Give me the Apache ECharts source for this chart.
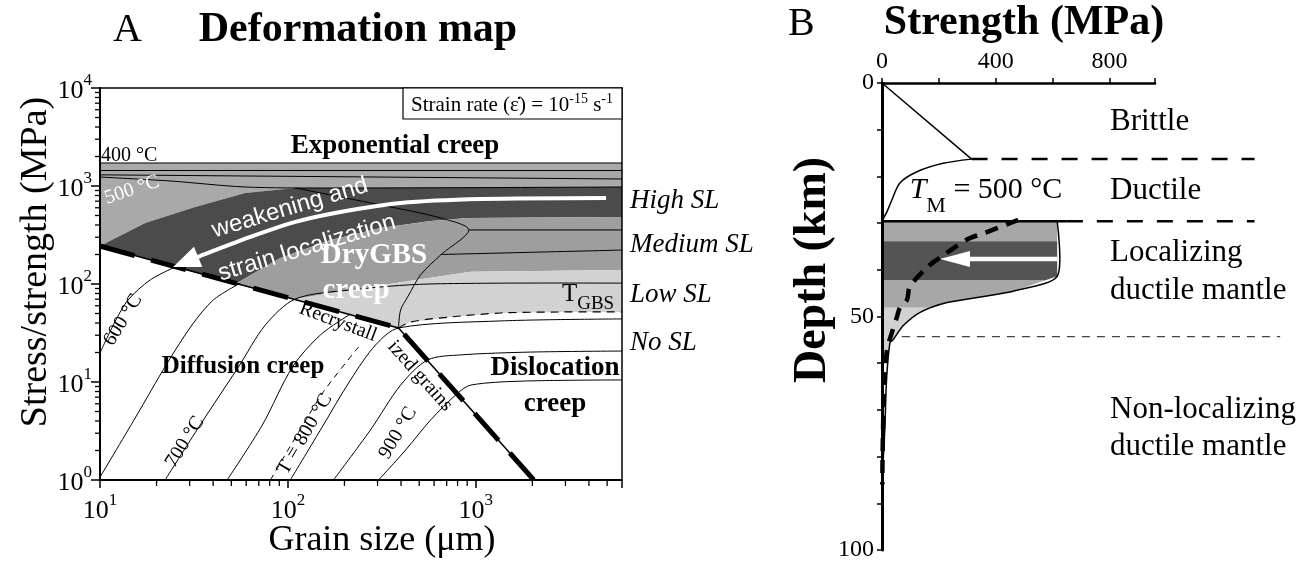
<!DOCTYPE html>
<html><head><meta charset="utf-8">
<script src="https://cdn.jsdelivr.net/npm/echarts@6/dist/echarts.min.js"></script>
<style>html,body{margin:0;padding:0;background:#fff}#c{width:1310px;height:562px}</style>
</head><body><div id="c"></div>
<script>
const SERIF = '"Liberation Serif","Times New Roman",serif';
const SANS = '"Liberation Sans",Arial,sans-serif';

// ===== Panel A : deformation map, [grain size (um), stress (MPa)] =====
const xTicksA = [10, 100, 1000];
const yTicksA = [1, 10, 100, 1000, 10000];
const minorXA = [20,30,40,50,60,70,80,90,200,300,400,500,600,700,800,900,2000,3000,4000,5000];
const minorYA = [2,3,4,5,6,7,8,9,20,30,40,50,60,70,80,90,200,300,400,500,600,700,800,900,2000,3000,4000,5000,6000,7000,8000,9000];

const regionHighT = [[10,1717],[6000,1717],[6000,977],[109.6,954],[59.3,848],[32.1,611],[17.4,419],[10,244]];
const regionHighSL = [[10,244],[17.4,419],[32.1,611],[59.3,848],[109.6,954],[6000,977],[6000,483],[906,472],[575,439],[311.5,373],[168.5,281],[91.2,184],[52.5,100]];
const regionMediumSL = [[52.5,100],[91.2,184],[168.5,281],[311.5,373],[575,439],[906,472],[6000,483],[6000,139],[940,133],[561,115],[215,86.9],[109.6,70.3]];
const regionLowSL = [[109.6,70.3],[215,86.9],[561,115],[940,133],[6000,139],[6000,51.8],[2840,51.8],[1359,50.6],[735.6,46.1],[450,41],[388,35.6]];

const piezometer = [[10,244],[388,35.6],[2037,1]];
const tGBS = [[388,35.6],[450,41],[735.6,46.1],[1359,50.6],[2840,51.8],[6000,51.8]];
const iso400a = [[10,1717],[6000,1717]];
const iso400b = [[10,1439],[6000,1439]];
const iso450 = [[10,1300],[6000,1179]];
const iso500 = [[10,1235],[23.6,1125],[59.3,977],[168.5,954],[6000,977]];
const gbsBoundary = [[109.6,954],[311.5,640],[650.6,472],[917.8,356],[650.6,198],[508.8,124],[433.8,73.7],[398,54.3],[388,35.6]];
const contour230 = [[917.8,356],[6000,356]];
const contour250 = [[650,200],[6000,222]];
const c600 = [[10,19.8],[12.0,41],[14.1,68.7],[18.5,110],[25.1,149]];
const c650 = [[10,1.07],[15.4,4.3],[22.8,15.6],[30.9,38.2],[40.1,68.7],[55.8,102]];
const c700 = [[22.2,1],[34.1,3.64],[54.5,14.2],[75.9,38.2],[109.6,70.3],[215,86.9],[561,100],[6000,102]];
const c750 = [[47.5,1],[73.1,3.64],[105.7,14.2],[149,30.2],[215.4,49.4]];
const cWet800 = [[80.7,1],[152.8,7.7],[237.7,22.8]];
const c800 = [[103,1],[149,3.24],[215.4,10.5],[293,23.9],[388,35.6],[1359,42],[6000,44]];
const c850 = [[174.8,1],[275,3.24],[398,9.3],[555,16.8],[832,18.9],[1963,20.2],[6000,20.7]];
const c900 = [[303.9,1],[423,2.02],[575,4.1],[802,7.7],[940.6,9.3],[1738,10.2],[6000,10.5]];
const arrowA = [[4935,755],[1064,736],[398,671],[190.5,543],[109.6,430],[63.1,302],[34.1,193],[24.5,149]];

// ===== Panel B : strength profile, [strength (MPa), depth (km)] =====
const brittle = [[0,0],[315,16.3]];
const ductileCrust = [[315,16.3],[215,17.2],[123,19],[63,21.4],[35,25],[18,27.5],[5,29],[0,29.6]];
const mantleProfile = [[616,29.6],[616,41.4],[461,44.6],[370,45.6],[229,47],[134,49.1],[74,52],[39,55],[28,55.6],[16,63.5],[10,74],[3,82],[0,86]];
const bandDepths = [29.6, 33.9, 42.3, 48.1, 60];
const mohoTop = [[0,29.6],[650,29.6]];
const tmCurve = [[479,29.3],[362,32.1],[299,33.5],[204,37.4],[162,39.3],[98,43.6],[88,46.4],[63,48.1],[53,50],[35,53.4],[18,57],[10,62],[5,70],[2,80],[1,86]];
const dashBD = [[315,16.3],[1310,16.3]];
const dashDL = [[650,29.6],[1310,29.6]];
const dashLN = [[70,54.3],[1400,54.3]];
const arrowB = [[616,37.7],[204,37.7]];

const COLORS = {highT:'#a9a9a9', dark:'#4b4b4b', med:'#9e9e9e', light:'#d2d2d2', bTop:'#a7a7a7', bDark:'#545454', bLight:'#d2d2d2'};

function poly(ax, pts, fill, z) {
  return {type:'custom', xAxisIndex:ax, yAxisIndex:ax, clip:true, silent:true, z:z||2, data:[pts[0]],
    renderItem:(p, api)=>({type:'polygon', shape:{points:pts.map(q=>api.coord(q))}, style:{fill:fill, stroke:null}})};
}
function pline(ax, pts, stroke, width, dash, smooth, z, clip) {
  return {type:'custom', xAxisIndex:ax, yAxisIndex:ax, clip:clip!==false, silent:true, z:z||3, data:[pts[0]],
    renderItem:(p, api)=>({type:'polyline', shape:{points:pts.map(q=>api.coord(q)), smooth:smooth||0},
      style:{stroke:stroke, lineWidth:width, lineDash:dash||null, fill:null, lineCap:'butt'}})};
}
function arrow(ax, pts, color, width, headLen, headHalf, smooth, z) {
  return {type:'custom', xAxisIndex:ax, yAxisIndex:ax, clip:true, silent:true, z:z||5, data:[pts[0]],
    renderItem:(p, api)=>{
      const c = pts.map(q=>api.coord(q));
      const tip = c[c.length-1], prev = c[c.length-2];
      const dx = tip[0]-prev[0], dy = tip[1]-prev[1], L = Math.hypot(dx,dy);
      const ux = dx/L, uy = dy/L;
      const base = [tip[0]-ux*headLen, tip[1]-uy*headLen];
      const linePts = c.slice(0, c.length-1).concat([[base[0]+ux*2, base[1]+uy*2]]);
      return {type:'group', children:[
        {type:'polyline', shape:{points:linePts, smooth:smooth||0}, style:{stroke:color, lineWidth:width, fill:null}},
        {type:'polygon', shape:{points:[tip,[base[0]-uy*headHalf, base[1]+ux*headHalf],[base[0]+uy*headHalf, base[1]-ux*headHalf]]}, style:{fill:color}}
      ]};
    }};
}
function ticks(ax, vals, dir, len) {
  return {type:'custom', xAxisIndex:ax, yAxisIndex:ax, clip:false, silent:true, z:12, data:[[10,10]],
    renderItem:(p, api)=>({type:'group', children: vals.map(v=>{
      if (dir==='x') { const c = api.coord([v, 1]); return {type:'line', shape:{x1:c[0], y1:c[1], x2:c[0], y2:c[1]+len}, style:{stroke:'#000', lineWidth:1.3}}; }
      const c = api.coord([10, v]); return {type:'line', shape:{x1:c[0]-len, y1:c[1], x2:c[0], y2:c[1]}, style:{stroke:'#000', lineWidth:1.3}};
    })})};
}
function strengthAt(d) {
  for (let i=0;i<mantleProfile.length-1;i++) {
    const a = mantleProfile[i], b = mantleProfile[i+1];
    if (d>=a[1] && d<=b[1]) { const t = (b[1]===a[1])?0:(d-a[1])/(b[1]-a[1]); return a[0]+t*(b[0]-a[0]); }
  }
  return 0;
}
function bandPoly(d1, d2) {
  const pts = [[0,d1],[strengthAt(d1),d1]];
  mantleProfile.forEach(q=>{ if (q[1]>d1 && q[1]<d2) pts.push(q); });
  pts.push([strengthAt(d2),d2],[0,d2]);
  return pts;
}

const powFmt = v => { const e = Math.log10(v), r = Math.round(e); if (Math.abs(e-r) > 1e-3) return ''; return '{b|10}{s|' + r + '}'; };
const powRich = { b:{fontSize:26, fontFamily:SERIF, color:'#000', verticalAlign:'bottom', lineHeight:32}, s:{fontSize:17, fontFamily:SERIF, color:'#000', verticalAlign:'top', lineHeight:17} };

const series = [
  poly(0, regionHighT, COLORS.highT, 2),
  poly(0, regionHighSL, COLORS.dark, 2),
  poly(0, regionMediumSL, COLORS.med, 2),
  poly(0, regionLowSL, COLORS.light, 2),
  pline(0, iso400a, '#000', 1),
  pline(0, iso400b, '#000', 1),
  pline(0, iso450, '#000', 1),
  pline(0, iso500, '#000', 1, null, 0.3),
  pline(0, gbsBoundary, '#000', 1, null, 0.3),
  pline(0, contour230, '#000', 1),
  pline(0, contour250, '#000', 1, null, 0.3),
  pline(0, c600, '#000', 1, null, 0.3),
  pline(0, c650, '#000', 1, null, 0.3),
  pline(0, c700, '#000', 1, null, 0.3),
  pline(0, c750, '#000', 1, null, 0.3),
  pline(0, cWet800, '#000', 1, [6,5], 0.2),
  pline(0, c800, '#000', 1, null, 0.3),
  pline(0, c850, '#000', 1, null, 0.3),
  pline(0, c900, '#000', 1, null, 0.3),
  pline(0, tGBS, '#000', 1.2, [8,6], 0.3),
  pline(0, piezometer, '#000', 1.5, null, 0, 4),
  pline(0, piezometer, '#000', 5, [36,17], 0, 4),
  arrow(0, arrowA, '#fff', 4, 27, 11, 0.3, 6),
  ticks(0, minorXA, 'x', 6),
  ticks(0, minorYA, 'y', 5),
  // Panel B
  poly(2, bandPoly(bandDepths[0], bandDepths[1]), COLORS.bTop, 2),
  poly(2, bandPoly(bandDepths[1], bandDepths[2]), COLORS.bDark, 2),
  poly(2, bandPoly(bandDepths[2], bandDepths[3]), COLORS.bTop, 2),
  poly(2, bandPoly(bandDepths[3], bandDepths[4]), COLORS.bLight, 2),
  pline(2, mantleProfile, '#000', 1.5, null, 0.25, 3, false),
  pline(2, brittle, '#000', 1.5, null, 0, 3, false),
  pline(2, ductileCrust, '#000', 1.5, null, 0.3, 3, false),
  pline(2, mohoTop, '#000', 2.5, null, 0, 3, false),
  pline(2, dashBD, '#000', 2.5, [16,14], 0, 3, false),
  pline(2, dashDL, '#000', 2.5, [16,14], 0, 3, false),
  pline(2, dashLN, '#444', 1.3, [8,7], 0, 3, false),
  arrow(2, arrowB, '#fff', 4.5, 30, 8, 0, 5),
  pline(2, tmCurve, '#000', 4.5, [13,9], 0.3, 6, false)
];

function txt(x, y, text, o) {
  o = o || {};
  return {type:'text', x:x, y:y, rotation:o.rot||0, z:100, silent:true,
    style:{text:text, fontSize:o.size||20, fontFamily:o.family||SERIF, fontWeight:o.weight||'normal', fontStyle:o.style||'normal',
      fill:o.color||'#000', align:o.align||'center', verticalAlign:'middle', rich:o.rich}};
}

const graphics = [
  txt(113, 30, 'A', {size:40, align:'left'}),
  txt(358, 30, 'Deformation map', {size:42, weight:'bold'}),
  txt(36, 262, 'Stress/strength (MPa)', {size:38, rot:Math.PI/2}),
  txt(382, 541, 'Grain size (\u03bcm)', {size:36}),
  {type:'rect', z:99, silent:true, shape:{x:403, y:88, width:219, height:31}, style:{fill:'#fff', stroke:'#000', lineWidth:1.2}},
  txt(512, 104, '{n|Strain rate (\u03b5\u0307) = 10}{s|-15}{n| s}{s|-1}', {rich:{
    n:{fontSize:21, fontFamily:SERIF, verticalAlign:'bottom', lineHeight:24, fill:'#000'},
    s:{fontSize:14, fontFamily:SERIF, verticalAlign:'top', lineHeight:14, fill:'#000'}}}),
  txt(395, 146, 'Exponential creep', {size:27, weight:'bold'}),
  txt(101, 156, '400 \u00b0C', {size:20, align:'left'}),
  txt(132, 190, '500 \u00b0C', {size:20, color:'#fff', rot:0.33}),
  txt(290, 208, 'weakening and', {size:24, family:SANS, color:'#fff', rot:0.29}),
  txt(307, 248, 'strain localization', {size:24, family:SANS, color:'#fff', rot:0.29}),
  txt(374, 256, 'DryGBS', {size:29, weight:'bold', color:'#fff'}),
  txt(356, 291, 'creep', {size:29, weight:'bold', color:'#fff'}),
  txt(588, 298, '{t|T}{g|GBS}', {rich:{
    t:{fontSize:25, fontFamily:SERIF, verticalAlign:'top', lineHeight:26, fill:'#000'},
    g:{fontSize:19, fontFamily:SERIF, verticalAlign:'bottom', lineHeight:32, fill:'#000'}}}),
  txt(338, 322, 'Recrystall', {size:20, rot:-0.36}),
  txt(420, 376, 'ized grains', {size:20, rot:-0.84}),
  txt(243, 367, 'Diffusion creep', {size:25, weight:'bold'}),
  txt(555, 368, 'Dislocation', {size:27, weight:'bold'}),
  txt(555, 404, 'creep', {size:27, weight:'bold'}),
  txt(123, 320, '600 \u00b0C', {size:20, rot:1.02}),
  txt(185, 442, '700 \u00b0C', {size:20, rot:1.01}),
  txt(305, 434, 'T = 800 \u00b0C', {size:20, rot:1.04}),
  txt(398, 433, '900 \u00b0C', {size:20, rot:1.04}),
  txt(630, 201, 'High SL', {size:27, style:'italic', align:'left'}),
  txt(630, 245, 'Medium SL', {size:27, style:'italic', align:'left'}),
  txt(630, 295, 'Low SL', {size:27, style:'italic', align:'left'}),
  txt(630, 343, 'No SL', {size:27, style:'italic', align:'left'}),
  // Panel B
  txt(788, 24, 'B', {size:40, align:'left'}),
  txt(1024, 23, 'Strength (MPa)', {size:42, weight:'bold'}),
  txt(813, 270, 'Depth (km)', {size:46, weight:'bold', rot:Math.PI/2}),
  txt(1110, 122, 'Brittle', {size:31, align:'left'}),
  txt(1110, 191, 'Ductile', {size:31, align:'left'}),
  txt(1110, 253, 'Localizing', {size:31, align:'left'}),
  txt(1110, 291, 'ductile mantle', {size:31, align:'left'}),
  txt(1110, 410, 'Non-localizing', {size:31, align:'left'}),
  txt(1110, 447, 'ductile mantle', {size:31, align:'left'}),
  txt(986, 196, '{t|T}{m|M}{n| = 500 \u00b0C}', {rich:{
    t:{fontSize:30, fontFamily:SERIF, fontStyle:'italic', verticalAlign:'top', lineHeight:32, fill:'#000'},
    m:{fontSize:22, fontFamily:SERIF, verticalAlign:'bottom', lineHeight:42, fill:'#000'},
    n:{fontSize:30, fontFamily:SERIF, verticalAlign:'top', lineHeight:32, fill:'#000'}}})
];

const chart = echarts.init(document.getElementById('c'));
chart.setOption({
  animation:false,
  backgroundColor:'#fff',
  grid:[{left:100, top:88, width:522, height:392}, {left:882, top:83, width:273, height:468}],
  xAxis:[
    {gridIndex:0, type:'log', logBase:10, min:10, max:6000, position:'bottom', z:20,
     axisLine:{onZero:false, lineStyle:{color:'#000', width:2}}, axisTick:{length:8, lineStyle:{color:'#000', width:1.5}},
     axisLabel:{margin:12, fontSize:26, fontFamily:SERIF, formatter:powFmt, rich:powRich}, splitLine:{show:false}},
    {gridIndex:0, type:'log', logBase:10, min:10, max:6000, position:'top', z:20,
     axisLine:{onZero:false, lineStyle:{color:'#000', width:1.5}}, axisTick:{show:false}, axisLabel:{show:false}, splitLine:{show:false}},
    {gridIndex:1, type:'value', min:0, max:960, interval:200, position:'top', z:20,
     axisLine:{onZero:false, lineStyle:{color:'#000', width:2.5}}, axisTick:{length:5, lineStyle:{color:'#000', width:1.5}},
     axisLabel:{margin:9, fontSize:24, fontFamily:SERIF, color:'#000', formatter:v=>(v%400===0 && v<=800)?String(v):''}, splitLine:{show:false}}
  ],
  yAxis:[
    {gridIndex:0, type:'log', logBase:10, min:1, max:10000, position:'left', z:20,
     axisLine:{onZero:false, lineStyle:{color:'#000', width:2}}, axisTick:{length:9, lineStyle:{color:'#000', width:1.5}},
     axisLabel:{margin:8, fontSize:26, fontFamily:SERIF, formatter:powFmt, rich:powRich}, splitLine:{show:false}},
    {gridIndex:0, type:'log', logBase:10, min:1, max:10000, position:'right', z:20,
     axisLine:{onZero:false, lineStyle:{color:'#000', width:1.5}}, axisTick:{show:false}, axisLabel:{show:false}, splitLine:{show:false}},
    {gridIndex:1, type:'value', inverse:true, min:0, max:100, interval:10, position:'left', z:20,
     axisLine:{onZero:false, lineStyle:{color:'#000', width:3}}, axisTick:{length:5, lineStyle:{color:'#000', width:1.5}},
     axisLabel:{margin:8, fontSize:24, fontFamily:SERIF, color:'#000', formatter:v=>(v%50===0)?String(v):''}, splitLine:{show:false}}
  ],
  series: series.map(s => { if (s.xAxisIndex === 2) { s.yAxisIndex = 2; } return s; }),
  graphic: graphics
});
</script></body></html>
